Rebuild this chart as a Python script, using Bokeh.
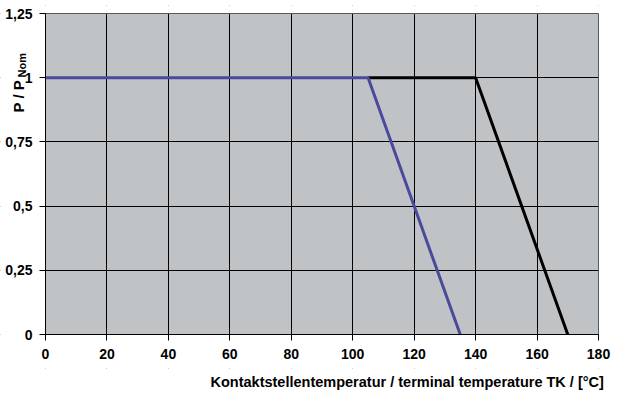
from bokeh.plotting import figure
from bokeh.models import Range1d, FixedTicker, Label, Title, BoxAnnotation
from bokeh.embed import file_html
from bokeh.resources import INLINE
import math

# Data
blue_temp = [0, 105, 135]
blue_power = [1, 1, 0]
black_temp = [105, 140, 170]
black_power = [1, 1, 0]
x_ticks = [0, 20, 40, 60, 80, 100, 120, 140, 160, 180]
y_ticks = [0, 0.25, 0.5, 0.75, 1, 1.25]
y_tick_labels = ["0", "0,25", "0,5", "0,75", "1", "1,25"]
x_min, x_max = 0, 180
y_min, y_max = 0, 1.25

FONT = "Liberation Sans"

# layout geometry (pixels): grey plot area spans x 45..598, y 13..334
W, H = 620, 393
PL, PR, PT, PB = 45, 598, 13, 334
FRAME_TOP, FRAME_BOTTOM = 5, 368
px_per_x = (PR - PL) / (x_max - x_min)
px_per_y = (PB - PT) / (y_max - y_min)
x_start = x_min - PL / px_per_x
x_end = x_max + (W - PR) / px_per_x
y_start = y_min - (FRAME_BOTTOM - PB) / px_per_y
y_end = y_max + (PT - FRAME_TOP) / px_per_y

p = figure(width=W, height=H, output_backend="svg", toolbar_location=None,
           x_range=Range1d(x_start, x_end), y_range=Range1d(y_start, y_end),
           min_border_left=0, min_border_right=0,
           min_border_top=FRAME_TOP, min_border_bottom=H - FRAME_BOTTOM)

p.background_fill_color = "white"
p.border_fill_color = "white"
p.outline_line_color = None

# grey plot area
p.add_layout(BoxAnnotation(left=x_min, right=x_max, bottom=y_min, top=y_max,
                           fill_color="#c0c3c6", fill_alpha=1.0,
                           line_color=None, level="image"))

for g in (p.xgrid[0], p.ygrid[0]):
    g.grid_line_color = "black"
    g.grid_line_width = 1
p.xgrid.ticker = FixedTicker(ticks=x_ticks)
p.ygrid.ticker = FixedTicker(ticks=y_ticks)

# white masks over the margin parts of the frame
for kw in (dict(right=x_min), dict(left=x_max), dict(top=y_min), dict(bottom=y_max)):
    p.add_layout(BoxAnnotation(fill_color="white", fill_alpha=1.0,
                               line_color=None, level="glyph", **kw))
# black border of plot area
p.add_layout(BoxAnnotation(left=x_min, right=x_max, bottom=y_min, top=y_max,
                           fill_alpha=0, line_color="black", line_width=1, level="glyph"))

p.xaxis.ticker = FixedTicker(ticks=x_ticks)
p.yaxis.ticker = FixedTicker(ticks=y_ticks)
p.yaxis.major_label_overrides = {t: l for t, l in zip(y_ticks, y_tick_labels)}
p.xaxis.bounds = (x_min, x_max)
p.yaxis.bounds = (y_min, y_max)
p.yaxis.fixed_location = x_min
p.xaxis.fixed_location = y_min

for ax in (p.xaxis[0], p.yaxis[0]):
    ax.axis_line_color = "black"
    ax.major_tick_line_color = "black"
    ax.major_tick_out = 6
    ax.major_tick_in = 0
    ax.minor_tick_line_color = None
    ax.major_label_text_font = FONT
    ax.major_label_text_font_style = "bold"
    ax.major_label_text_font_size = "14px"
    ax.major_label_text_color = "black"

p.xaxis.major_label_standoff = 8
p.yaxis.major_label_standoff = 7

p.add_layout(Title(text="Kontaktstellentemperatur / terminal temperature TK / [°C]",
                   align="left", offset=210, standoff=6,
                   text_font=FONT, text_font_style="bold", text_font_size="14.5px",
                   text_color="black"), "below")

p.line(black_temp, black_power, line_color="black", line_width=3)
p.line(blue_temp, blue_power, line_color="#4a4a9c", line_width=3)

# y-axis label with subscript, in the left (white) part of the frame
def dx(px):
    return x_min + (px - PL) / px_per_x
def dy(py):
    return y_min + (PB - py) / px_per_y

p.add_layout(Label(x=dx(18), y=dy(112), text="P / P", angle=math.pi / 2,
                   text_font=FONT, text_font_style="bold", text_font_size="15px",
                   text_align="left", text_baseline="alphabetic", text_color="black"))
p.add_layout(Label(x=dx(21), y=dy(77), text="Nom", angle=math.pi / 2,
                   text_font=FONT, text_font_style="bold", text_font_size="11px",
                   text_align="left", text_baseline="alphabetic", text_color="black"))

open("out.html", "w").write(file_html(p, INLINE))
